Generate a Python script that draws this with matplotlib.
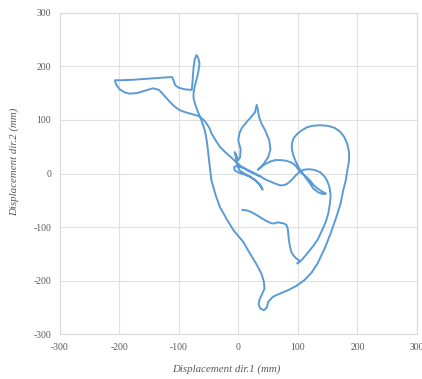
import matplotlib
matplotlib.use("Agg")
import matplotlib.pyplot as plt

# Trajectory (mm), in drawing order
disp_dir1 = [
    7, 15, 22, 30, 36, 43, 50, 56, 61, 66, 70, 76, 81, 83, 84, 85, 87, 89, 92, 97, 103, 99, 104, 110,
    118, 126, 133, 141, 147, 151, 154, 155, 153, 149, 145, 138, 132, 126, 118, 110, 103, 97, 92, 87, 81,
    75, 70, 60, 52, 47, 38, 28, 18,
    10, 3, -3, -7, -6, 0, 8, 18, 28, 36, 41, 38, 30, 20, 10, 2, -2, -4, -6, -4, 0, 3,
    4, 0, 2, 6, 14, 22, 28, 31, 33, 35, 39, 45, 52, 54, 50, 42, 33,
    43, 53, 62, 70, 80, 88, 94, 98, 103, 109, 115, 121, 126, 132, 137, 141, 145, 147,
    141, 134, 126, 120, 114, 107, 101, 97, 93, 90, 90, 93, 99, 106, 115, 125, 137, 150, 162, 171, 178,
    183, 186, 186, 183, 180, 176, 172, 165, 155, 145, 133, 123, 111, 97, 83, 70, 58, 50, 48, 43, 37,
    34, 36, 40, 44, 43, 39, 30, 20, 8, -8, -20, -31, -38, -45, -47, -49, -51, -53, -56, -59, -62, -65,
    -68, -72, -75, -75, -73, -70, -67, -65, -67, -70, -73, -75, -76, -77, -78,
    -90, -100, -106, -108, -111, -125, -150, -175, -195, -207, -205, -199, -190, -182, -170, -155, -143,
    -133, -124, -115, -107, -98, -88, -78, -66, -58, -53, -48, -45, -38, -31, -22, -14, -8, -3,
    3, 10, 17, 28, 36,
]
disp_dir2 = [
    -68, -69, -72, -77, -81, -86, -90, -93, -93, -91, -92, -93, -96, -103, -112, -125, -137, -146, -152,
    -158, -163, -168, -164, -157,
    -146, -135, -124, -105, -90, -75, -55, -40, -25, -13, -6, 2, 5, 7, 8, 7, 3, -3, -9, -15, -20,
    -22, -22, -18, -14, -12, -6, -1, 4,
    10, 12, 14, 12, 6, 2, -1, -5, -12, -20, -30, -24, -14, -6, 0, 6, 16, 30, 40, 36, 25, 30,
    45, 62, 75, 85, 96, 106, 114, 128, 118, 105, 93, 81, 62, 45, 30, 17, 7,
    16, 22, 25, 25, 24, 21, 17, 12, 4, -2, -7, -14, -21, -27, -31, -34, -36, -38,
    -38, -35, -28, -18, -9, 2, 12, 21, 32, 45, 56, 66, 74, 80, 86, 89, 90, 89, 85, 78, 68,
    55, 40, 25, 5, -15, -32, -55, -80, -112, -140, -168, -185, -199, -210, -218, -224, -230, -240,
    -250, -255, -252,
    -244, -234, -225, -215, -202, -187, -168, -150, -127, -106, -84, -62, -40, -13, 5, 25, 44, 62, 80,
    90, 100, 108, 116, 128, 140, 150, 163, 175, 190, 205, 215, 221, 213, 198, 182, 168, 156,
    157, 160, 165, 172, 180, 179, 177, 175, 174, 174, 166, 157, 151, 149, 150, 155, 159,
    156, 145, 134, 125, 118, 114, 111, 107, 100, 93, 84, 75, 62, 50, 40, 32, 26, 21,
    15, 10, 6, 0, -5,
]

x_ticks = [-300, -200, -100, 0, 100, 200, 300]
y_ticks = [-300, -200, -100, 0, 100, 200, 300]
x_label = "Displacement dir.1 (mm)"
y_label = "Displacement dir.2 (mm)"

fig = plt.figure(figsize=(4.22, 3.79), dpi=100)
ax = fig.add_axes([59.5 / 422, 1 - 334.3 / 379, (417 - 59.5) / 422, (334.3 - 12.7) / 379])

ax.plot(disp_dir1, disp_dir2, color="#5B9BD5", lw=1.4, solid_joinstyle="round", zorder=3)

ax.set_xlim(-300, 300)
ax.set_ylim(-300, 300)
ax.set_xticks(x_ticks)
ax.set_yticks(y_ticks)
ax.set_xticklabels([str(v) for v in x_ticks])
ax.set_yticklabels([str(v) for v in y_ticks])
ax.grid(True, color="#e0e0e0", lw=0.8, zorder=0)
for s in ax.spines.values():
    s.set_color("#d9d9d9")
    s.set_linewidth(0.8)
ax.tick_params(length=0, pad=6, labelsize=7, labelcolor="#595959")
for lab in ax.get_xticklabels() + ax.get_yticklabels():
    lab.set_fontfamily("Liberation Serif")

ax.set_xlabel(x_label, fontsize=7.8, fontstyle="italic", family="Liberation Serif",
              color="#595959")
ax.set_ylabel(y_label, fontsize=7.8, fontstyle="italic", family="Liberation Serif",
              color="#595959")
ax.xaxis.set_label_coords(0.466, -0.094)
ax.yaxis.set_label_coords(-0.112, 0.537)

fig.savefig("out.png", dpi=100)
